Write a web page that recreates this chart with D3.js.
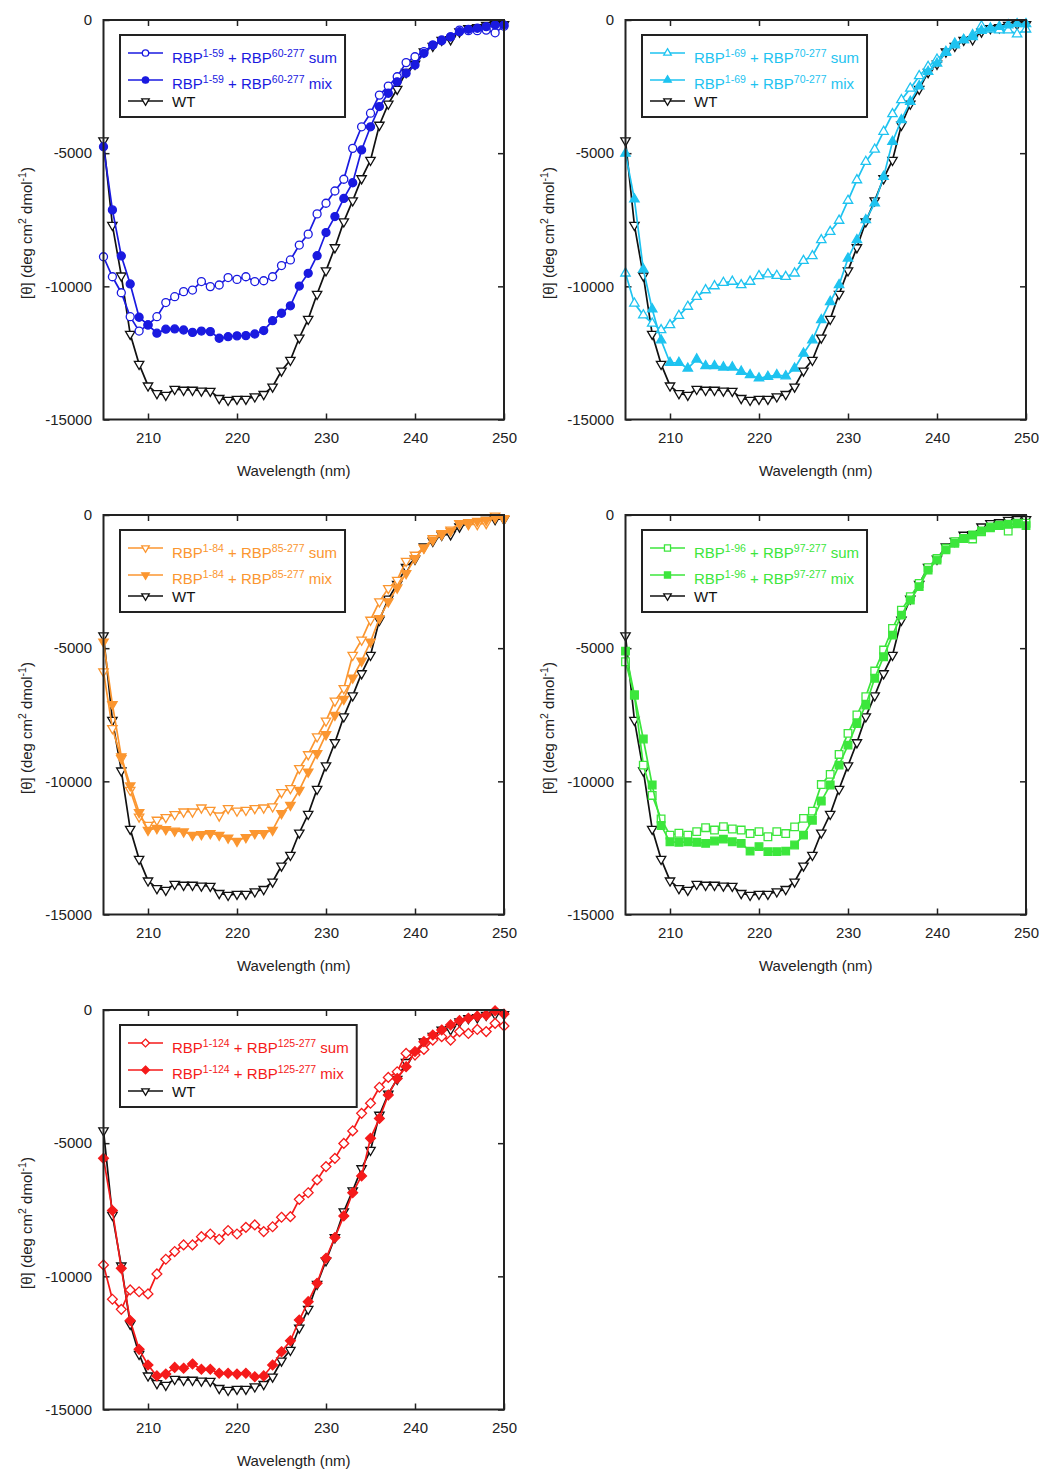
<!DOCTYPE html>
<html>
<head>
<meta charset="utf-8">
<script src="https://cdn.jsdelivr.net/npm/d3@7"></script>
<style>
  body { margin: 0; background: #fff; }
  text { font-family: "Liberation Sans", Arial, sans-serif; }
</style>
</head>
<body>
<script>
// wavelengths (nm), one reading per nm
const wavelength = [205,206,207,208,209,210,211,212,213,214,215,216,217,218,219,220,221,222,223,224,
  225,226,227,228,229,230,231,232,233,234,235,236,237,238,239,240,241,242,243,244,245,246,247,248,249,250];

// full length protein, same in every panel
const wt = [-4530,-7700,-9600,-11790,-12920,-13730,-14020,-14080,-13860,-13890,
  -13890,-13920,-13930,-14200,-14270,-14230,-14230,-14140,-14050,-13770,
  -13170,-12770,-11930,-11230,-10290,-9410,-8540,-7570,-6780,-5950,
  -5260,-3940,-3150,-2590,-1960,-1650,-1190,-980,-750,-730,
  -440,-310,-280,-190,-160,-160];

const sum159 = [-8890,-9640,-10240,-11140,-11680,-11450,-11140,-10610,-10390,-10200,
  -10140,-9820,-10010,-9950,-9670,-9740,-9640,-9820,-9790,-9640,
  -9220,-9010,-8450,-8040,-7280,-6880,-6420,-5980,-4820,-4010,
  -3500,-2820,-2480,-2130,-1600,-1380,-1190,-940,-750,-630,
  -380,-400,-400,-380,-480,-230];
const mix159 = [-4760,-7130,-8860,-9910,-11160,-11450,-11760,-11610,-11600,-11640,
  -11730,-11680,-11700,-11950,-11890,-11860,-11850,-11790,-11660,-11290,
  -11010,-10730,-9990,-9510,-8850,-7980,-7380,-6700,-6110,-4880,
  -4010,-3250,-2750,-2320,-2000,-1690,-1250,-940,-780,-630,
  -440,-350,-310,-250,-190,-190];

const sum169 = [-9510,-10640,-11080,-11390,-11640,-11450,-11100,-10760,-10390,-10140,
  -9990,-9860,-9820,-9950,-9820,-9610,-9540,-9600,-9640,-9510,
  -9040,-8860,-8260,-7950,-7530,-6780,-6010,-5320,-4860,-4190,
  -3530,-3000,-2570,-2100,-1750,-1480,-1190,-880,-750,-560,
  -230,-350,-380,-380,-530,-350];
const mix169 = [-5010,-6730,-9360,-10860,-12020,-12870,-12870,-13080,-12740,-12990,
  -12990,-13040,-13040,-13200,-13330,-13450,-13390,-13330,-13370,-13080,
  -12520,-12020,-11260,-10580,-9950,-8950,-8260,-7510,-6880,-5880,
  -4570,-3750,-3070,-2480,-1940,-1630,-1230,-940,-750,-630,
  -400,-310,-250,-190,-150,-150];

const sum184 = [-5880,-8010,-9140,-10330,-11330,-11640,-11450,-11350,-11240,-11140,
  -11140,-10990,-11080,-11290,-11010,-11110,-11080,-11010,-10990,-10950,
  -10410,-10260,-9510,-8990,-8320,-7730,-6980,-6510,-5260,-4690,
  -3940,-3250,-2750,-2440,-1730,-1500,-1230,-880,-690,-560,
  -310,-350,-350,-310,-30,-130];
const mix184 = [-4760,-7110,-9070,-10160,-11160,-11830,-11760,-11800,-11860,-11890,
  -12020,-11990,-11950,-12020,-12120,-12240,-12100,-11950,-11950,-11830,
  -11200,-10890,-10330,-9640,-8950,-8240,-7510,-6910,-6110,-5480,
  -4760,-3880,-3250,-2730,-2190,-1630,-1230,-940,-730,-600,
  -310,-280,-230,-190,-100,-150];

const sum196 = [-5510,-6760,-9390,-10530,-11410,-12020,-11950,-12020,-11890,-11740,
  -11830,-11700,-11790,-11830,-11960,-11890,-12080,-11890,-11960,-11710,
  -11390,-11120,-10120,-9740,-8990,-8200,-7510,-6820,-5860,-5070,
  -4260,-3570,-3070,-2570,-1980,-1630,-1250,-1000,-880,-900,
  -630,-450,-380,-600,-310,-310];
const mix196 = [-5110,-6760,-8410,-10140,-11660,-12270,-12290,-12270,-12290,-12330,
  -12240,-12170,-12270,-12330,-12620,-12450,-12640,-12640,-12620,-12390,
  -12020,-11460,-10740,-10140,-9390,-8640,-7830,-7140,-6130,-5320,
  -4510,-3760,-3190,-2690,-2070,-1690,-1310,-1060,-880,-750,
  -600,-480,-400,-350,-330,-400];

const sum1124 = [-9570,-10860,-11240,-10510,-10580,-10660,-9910,-9360,-9070,-8820,
  -8820,-8510,-8410,-8610,-8280,-8410,-8160,-8070,-8320,-8140,
  -7780,-7760,-7110,-6860,-6380,-5880,-5570,-5010,-4540,-3880,
  -3500,-2900,-2530,-2320,-1630,-1690,-1480,-1130,-1000,-1130,
  -810,-880,-730,-810,-500,-600];
const mix1124 = [-5570,-7530,-9700,-11660,-12740,-13330,-13740,-13670,-13420,-13450,
  -13290,-13490,-13490,-13640,-13640,-13670,-13640,-13770,-13740,-13330,
  -12830,-12420,-11640,-10950,-10260,-9320,-8540,-7730,-6860,-6230,
  -4820,-4070,-3190,-2570,-2130,-1560,-1190,-940,-750,-560,
  -400,-310,-230,-190,-30,-150];

// per panel settings
const sumSeries = [sum159, sum169, sum184, sum196, sum1124];
const mixSeries = [mix159, mix169, mix184, mix196, mix1124];
const fragA = ["1-59", "1-69", "1-84", "1-96", "1-124"];
const fragB = ["60-277", "70-277", "85-277", "97-277", "125-277"];
const panelColors = ["#1a1ae0", "#1ec3f0", "#fb9630", "#3ce63c", "#f51a1a"];
const panelMarkers = ["circle", "triUp", "triDown", "square", "diamond"];

const xTicks = [210, 220, 230, 240, 250];
const yTicks = [0, -5000, -10000, -15000];

// layout
const colX = [103.5, 625.5];
const rowY = [20, 515, 1010];
const W = 400.5, H = 399.5;

const svg = d3.select("body").append("svg")
  .attr("width", 1039)
  .attr("height", 1471);

function markerPath(type, s) {
  // s = scale factor, 1 for plot markers
  if (type === "circle") {
    const r = 4 * s;
    return `M${-r},0A${r},${r} 0 1,0 ${r},0A${r},${r} 0 1,0 ${-r},0Z`;
  }
  if (type === "triUp") {
    return `M0,${-5.4 * s}L${4.7 * s},${2.7 * s}L${-4.7 * s},${2.7 * s}Z`;
  }
  if (type === "triDown") {
    return `M0,${5.4 * s}L${4.7 * s},${-2.7 * s}L${-4.7 * s},${-2.7 * s}Z`;
  }
  if (type === "square") {
    const h = 3.8 * s;
    return `M${-h},${-h}H${h}V${h}H${-h}Z`;
  }
  // diamond
  const d = 4.9 * s;
  return `M0,${-d}L${d},0L0,${d}L${-d},0Z`;
}

function drawSeries(g, x, y, values, color, type, filled) {
  const pts = wavelength.map((w, i) => [w, values[i]]);
  const line = d3.line().x(d => x(d[0])).y(d => y(d[1]));
  g.append("path")
    .attr("d", line(pts))
    .attr("fill", "none")
    .attr("stroke", color)
    .attr("stroke-width", 1.7);
  g.selectAll(null)
    .data(pts)
    .enter()
    .append("path")
    .attr("transform", d => `translate(${x(d[0])},${y(d[1])})`)
    .attr("d", markerPath(type, 1))
    .attr("fill", filled ? color : "#fff")
    .attr("stroke", color)
    .attr("stroke-width", 1.3);
}

function legendLabel(t, color, a, b, tail) {
  t.attr("fill", color);
  t.append("tspan").text("RBP");
  t.append("tspan").attr("font-size", 10.5).attr("dy", -6).text(a);
  t.append("tspan").attr("dy", 6).text(" + RBP");
  t.append("tspan").attr("font-size", 10.5).attr("dy", -6).text(b);
  t.append("tspan").attr("dy", 6).text(" " + tail);
}

function drawPanel(p) {
  const left = colX[p % 2];
  const top = rowY[Math.floor(p / 2)];
  const color = panelColors[p];
  const type = panelMarkers[p];

  const x = d3.scaleLinear().domain([205, 250]).range([left, left + W]);
  const y = d3.scaleLinear().domain([-15000, 0]).range([top + H, top]);

  const g = svg.append("g");

  // axes, ticks pointing inwards
  g.append("g")
    .attr("transform", `translate(0,${top + H})`)
    .call(d3.axisBottom(x).tickValues(xTicks).tickSize(-6).tickPadding(13))
    .call(a => a.select(".domain").remove());
  g.append("g")
    .attr("transform", `translate(0,${top})`)
    .call(d3.axisTop(x).tickValues(xTicks).tickSize(-6).tickFormat(""))
    .call(a => a.select(".domain").remove());
  g.append("g")
    .attr("transform", `translate(${left},0)`)
    .call(d3.axisLeft(y).tickValues(yTicks).tickSize(-6).tickPadding(11.5).tickFormat(d => String(d)))
    .call(a => a.select(".domain").remove());
  g.append("g")
    .attr("transform", `translate(${left + W},0)`)
    .call(d3.axisRight(y).tickValues(yTicks).tickSize(-6).tickFormat(""))
    .call(a => a.select(".domain").remove());

  g.selectAll(".tick line").attr("stroke", "#222").attr("stroke-width", 1.5);
  g.selectAll(".tick text")
    .attr("font-size", 15)
    .attr("font-family", '"Liberation Sans", Arial, sans-serif')
    .attr("fill", "#222");

  // series
  drawSeries(g, x, y, wt, "#111", "triDown", false);
  drawSeries(g, x, y, sumSeries[p], color, type, false);
  drawSeries(g, x, y, mixSeries[p], color, type, true);

  // frame
  g.append("rect")
    .attr("x", left).attr("y", top)
    .attr("width", W).attr("height", H)
    .attr("fill", "none")
    .attr("stroke", "#222")
    .attr("stroke-width", 2);

  // axis titles
  g.append("text")
    .attr("x", left + W / 2 - 10)
    .attr("y", top + H + 56)
    .attr("text-anchor", "middle")
    .attr("font-size", 15)
    .attr("fill", "#222")
    .text("Wavelength (nm)");

  const yt = g.append("text")
    .attr("transform", `translate(${left - 72},${top + 213}) rotate(-90)`)
    .attr("text-anchor", "middle")
    .attr("font-size", 15)
    .attr("fill", "#222");
  yt.append("tspan").text("[θ] (deg cm");
  yt.append("tspan").attr("font-size", 10.5).attr("dy", -6).text("2");
  yt.append("tspan").attr("dy", 6).text(" dmol");
  yt.append("tspan").attr("font-size", 10.5).attr("dy", -6).text("-1");
  yt.append("tspan").attr("dy", 6).text(")");

  // legend
  const lg = g.append("g").attr("transform", `translate(${left + 16.5},${top + 15})`);
  const box = lg.append("rect")
    .attr("height", 82)
    .attr("fill", "#fff")
    .attr("stroke", "#222")
    .attr("stroke-width", 2);
  const rows = [
    { lineY: 18, textY: 28, color: color, filled: false, type: type, tail: "sum" },
    { lineY: 45, textY: 54, color: color, filled: true, type: type, tail: "mix" },
    { lineY: 66, textY: 72, color: "#111", filled: false, type: "triDown", tail: null }
  ];
  let maxEnd = 0;
  rows.forEach(r => {
    lg.append("line")
      .attr("x1", 8).attr("x2", 43)
      .attr("y1", r.lineY).attr("y2", r.lineY)
      .attr("stroke", r.color)
      .attr("stroke-width", 1.7);
    lg.append("path")
      .attr("transform", `translate(25.5,${r.lineY})`)
      .attr("d", markerPath(r.type, 0.8))
      .attr("fill", r.filled ? r.color : "#fff")
      .attr("stroke", r.color)
      .attr("stroke-width", 1.3);
    const t = lg.append("text")
      .attr("x", 52)
      .attr("y", r.textY)
      .attr("font-size", 15);
    if (r.tail) {
      legendLabel(t, r.color, fragA[p], fragB[p], r.tail);
    } else {
      t.attr("fill", "#111").text("WT");
    }
    const bb = t.node().getBBox();
    maxEnd = Math.max(maxEnd, bb.x + bb.width);
  });
  box.attr("width", maxEnd + 8);
}

for (let p = 0; p < 5; p++) drawPanel(p);
</script>
</body>
</html>
